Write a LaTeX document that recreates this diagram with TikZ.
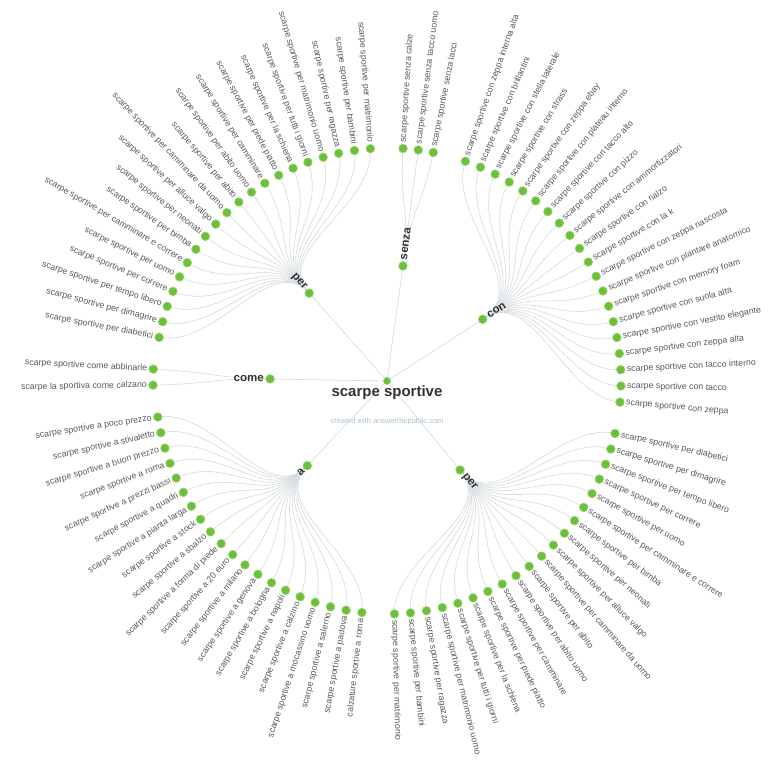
\documentclass[tikz,border=0pt]{standalone}
\usepackage{fontspec}
\setmainfont{Liberation Sans}
\definecolor{dotg}{HTML}{6BBF3A}
\definecolor{dotl}{HTML}{93D266}
\definecolor{linkc}{HTML}{D9DEE2}
\definecolor{leafc}{HTML}{5A5A5A}
\definecolor{darkc}{HTML}{333333}
\definecolor{wmc}{HTML}{A9C3D2}
\tikzset{
  gdot/.style={circle, fill=dotg, draw=dotl, line width=0.8pt, minimum size=8.5pt, inner sep=0pt},
  leaf/.style={font=\fontsize{8.8}{10}\selectfont, text=leafc, inner sep=0pt},
  brl/.style={font=\bfseries\fontsize{11.5}{13}\selectfont, text=darkc, inner sep=0pt},
  lnk/.style={draw=linkc, line width=0.7pt},
}
\begin{document}
\begin{tikzpicture}[x=1pt,y=1pt]
\useasboundingbox[fill=white] (-388,-382) rectangle (392,381);
% root and branch positions
\coordinate (root) at (-1,0);
\coordinate (bP1) at (131.9:118);
\coordinate (bS) at (82.6:116);
\coordinate (bC) at (33.1:113);
\coordinate (bP2) at (-51:114.5);
\coordinate (bA) at (226.4:117);
\coordinate (bCo) at (179:118);
% root links
\foreach \b in {bP1,bS,bC,bP2,bA,bCo} \draw[lnk] (root) -- (\b);
% cluster per (top-left)
\foreach \lab [count=\i from 0] in {scarpe sportive per diabetici,scarpe sportive per dimagrire,scarpe sportive per tempo libero,scarpe sportive per correre,scarpe sportive per uomo,scarpe sportive per camminare e correre,scarpe sportive per bimba,scarpe sportive per neonati,scarpe sportive per alluce valgo,scarpe sportive per camminare da uomo,scarpe sportive per abito,scarpe sportive per abito uomo,scarpe sportive per camminare,scarpe sportive per piede piatto,scarpe sportive per la schiena,scarpe sportive per tutti i giorni,scarpe sportive per matrimonio uomo,scarpe sportive per ragazza,scarpe sportive per bambini,scarpe sportive per matrimonio}{
  \pgfmathsetmacro\ang{169.2-3.94*\i}
  \pgfmathsetmacro\rot{\ang-180}
  \coordinate (pA\i) at (\ang:233);
  \draw[lnk] (bP1) .. controls (131.9:175) and (\ang:175) .. (pA\i);
  \node[gdot] (pAd\i) at (pA\i) {};
  \node[leaf, anchor=east, rotate=\rot] (pAt\i) at (\ang:239) {\lab};
}
% cluster senza
\foreach \lab [count=\i from 0] in {scarpe sportive senza calze,scarpe sportive senza tacco uomo,scarpe sportive senza lacci}{
  \pgfmathsetmacro\ang{86.3-3.75*\i}
  \coordinate (sA\i) at (\ang:233);
  \draw[lnk] (bS) .. controls (82.6:175) and (\ang:175) .. (sA\i);
  \node[gdot] (sAd\i) at (sA\i) {};
  \node[leaf, anchor=west, rotate=\ang] (sAt\i) at (\ang:239) {\lab};
}
% cluster con
\foreach \lab [count=\i from 0] in {scarpe sportive con zeppa interna alta,scarpe sportive con brillantini,scarpe sportive con stella laterale,scarpe sportive con strass,scarpe sportive con zeppa ebay,scarpe sportive con plateau interno,scarpe sportive con tacco alto,scarpe sportive con pizzo,scarpe sportive con ammortizzatori,scarpe sportive con rialzo,scarpe sportive con la k,scarpe sportive con zeppa nascosta,scarpe sportive con plantare anatomico,scarpe sportive con memory foam,scarpe sportive con suola alta,scarpe sportive con vestito elegante,scarpe sportive con zeppa alta,scarpe sportive con tacco interno,scarpe sportive con tacco,scarpe sportive con zeppa}{
  \pgfmathsetmacro\ang{70.6-3.99*\i}
  \coordinate (cA\i) at (\ang:233);
  \draw[lnk] (bC) .. controls (33.1:175) and (\ang:175) .. (cA\i);
  \node[gdot] (cAd\i) at (cA\i) {};
  \node[leaf, anchor=west, rotate=\ang] (cAt\i) at (\ang:239) {\lab};
}
% cluster per (bottom-right)
\foreach \lab [count=\i from 0] in {scarpe sportive per diabetici,scarpe sportive per dimagrire,scarpe sportive per tempo libero,scarpe sportive per correre,scarpe sportive per uomo,scarpe sportive per camminare e correre,scarpe sportive per bimba,scarpe sportive per neonati,scarpe sportive per alluce valgo,scarpe sportive per camminare da uomo,scarpe sportive per abito,scarpe sportive per abito uomo,scarpe sportive per camminare,scarpe sportive per piede piatto,scarpe sportive per la schiena,scarpe sportive per tutti i giorni,scarpe sportive per matrimonio uomo,scarpe sportive per ragazza,scarpe sportive per bambini,scarpe sportive per matrimonio}{
  \pgfmathsetmacro\ang{347-3.97*\i}
  \coordinate (qA\i) at (\ang:233);
  \draw[lnk] (bP2) .. controls (-51:175) and (\ang:175) .. (qA\i);
  \node[gdot] (qAd\i) at (qA\i) {};
  \node[leaf, anchor=west, rotate=\ang] (qAt\i) at (\ang:239) {\lab};
}
% cluster a
\foreach \lab [count=\i from 0] in {scarpe sportive a poco prezzo,scarpe sportive a stivaletto,scarpe sportive a buon prezzo,scarpe sportive a roma,scarpe sportive a prezzi bassi,scarpe sportive a quadri,scarpe sportive a pianta larga,scarpe sportive a stock,scarpe sportive a sbalzo,scarpe sportive a forma di piede,scarpe sportive a 20 euro,scarpe sportive a milano,scarpe sportive a genova,scarpe sportive a bologna,scarpe sportive a napoli,scarpe sportive a calzino,scarpe sportive a mocassino uomo,scarpe sportive a salerno,scarpe sportive a padova,calzature sportive a roma}{
  \pgfmathsetmacro\ang{188.9+3.93*\i}
  \pgfmathsetmacro\rot{\ang-180}
  \coordinate (aA\i) at (\ang:233);
  \draw[lnk] (bA) .. controls (226.4:175) and (\ang:175) .. (aA\i);
  \node[gdot] (aAd\i) at (aA\i) {};
  \node[leaf, anchor=east, rotate=\rot] (aAt\i) at (\ang:239) {\lab};
}
% cluster come
\foreach \lab/\ang [count=\i from 0] in {scarpe sportive come abbinarle/177.1,scarpe la sportiva come calzano/181.0}{
  \pgfmathsetmacro\rot{\ang-180}
  \coordinate (mA\i) at (\ang:235);
  \draw[lnk] (bCo) .. controls (179:176) and (\ang:176) .. (mA\i);
  \node[gdot] (mAd\i) at (mA\i) {};
  \node[leaf, anchor=east, rotate=\rot] (mAt\i) at (\ang:241) {\lab};
}
% branch dots and labels
\node[gdot] (dP1) at (bP1) {};
\node[gdot] (dS) at (bS) {};
\node[gdot] (dC) at (bC) {};
\node[gdot] (dP2) at (bP2) {};
\node[gdot] (dA) at (bA) {};
\node[gdot] (dCo) at (bCo) {};
\node[brl, anchor=east, rotate=-48.1] (tP1) at (131.9:124) {per};
\node[brl, anchor=west, rotate=82.6] (tS) at (82.6:122) {senza};
\node[brl, anchor=west, rotate=33.1] (tC) at (33.1:119) {con};
\node[brl, anchor=west, rotate=-51] (tP2) at (-51:120.5) {per};
\node[brl, anchor=east, rotate=46.4] (tA) at (226.4:123) {a};
\node[brl, anchor=east, rotate=-1] (tCo) at (179:124) {come};
% root
\node[gdot, minimum size=7pt] (rd) at (root) {};
\node[font=\bfseries\fontsize{15}{17}\selectfont, text=darkc, inner sep=0pt] (rt) at (-1,-12) {scarpe sportive};
\node[font=\fontsize{7.5}{9}\selectfont, text=wmc, inner sep=0pt] (wm) at (-1,-41) {created with answerthepublic.com};
\end{tikzpicture}
\end{document}
